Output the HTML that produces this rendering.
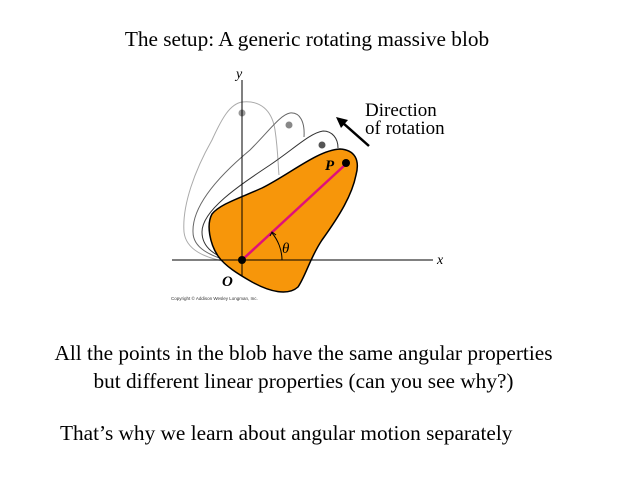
<!DOCTYPE html>
<html><head><style>
body{margin:0;width:640px;height:480px;background:#fff;overflow:hidden;position:relative;font-family:"Liberation Serif",serif;}
.t{position:absolute;font-size:21.3px;color:#000;white-space:nowrap;}
</style></head><body>
<div class="t" style="left:0;width:614px;text-align:center;top:27px;">The setup: A generic rotating massive blob</div>
<svg width="640" height="480" style="position:absolute;left:0;top:0">
<path d="M242,102 C260,100 272,110 275,130 C278,150 278,165 279,175 M228,262 C205,258 186,250 184,232 C182,205 195,170 212,140 C222,118 230,104 242,102" fill="none" stroke="#aaa" stroke-width="1"/>
<path d="M290,113 C300,112 305,122 304,137 M232,262 C210,256 193,248 193,232 C192,205 220,175 250,150 C270,130 280,115 290,113" fill="none" stroke="#666" stroke-width="1"/>
<path d="M323,131 C332,131 338,138 338,148 M236,263 C215,256 202,248 202,232 C202,210 240,185 270,165 C295,148 310,133 323,131" fill="none" stroke="#333" stroke-width="1"/>
<circle cx="242" cy="113" r="3.5" fill="#999"/>
<circle cx="289" cy="125" r="3.5" fill="#888"/>
<circle cx="322" cy="145" r="3.5" fill="#555"/>
<path d="M340,149 C355,150 360,160 356,175 C352,195 340,215 322,240 C310,258 306,275 298,287 C288,296 270,292 252,282 C238,274 225,266 218,256 C210,244 206,225 212,214 C220,204 240,198 262,188 C290,174 318,150 340,149 Z" fill="#f7960a" stroke="#000" stroke-width="1.5"/>
<line x1="172" y1="260" x2="433" y2="260" stroke="#000" stroke-width="1"/>
<line x1="242" y1="80" x2="242" y2="276" stroke="#000" stroke-width="1"/>
<line x1="242" y1="260" x2="346" y2="164" stroke="#e0107a" stroke-width="2.5"/>
<circle cx="242" cy="260" r="4" fill="#000"/>
<circle cx="346" cy="163" r="4" fill="#000"/>
<path d="M282,260 C282,250 278,240 272,233" fill="none" stroke="#000" stroke-width="1"/>
<path d="M270,236 L272,232 L276,235" fill="none" stroke="#000" stroke-width="1"/>
<line x1="369" y1="146" x2="343" y2="123" stroke="#000" stroke-width="2.5"/>
<path d="M336,117 L348,120 L341,128 Z" fill="#000"/>
<text x="236" y="78" font-family="Liberation Serif" font-style="italic" font-size="14">y</text>
<text x="437" y="264" font-family="Liberation Serif" font-style="italic" font-size="14">x</text>
<text x="222" y="286" font-family="Liberation Serif" font-style="italic" font-weight="bold" font-size="15">O</text>
<text x="325" y="170" font-family="Liberation Serif" font-style="italic" font-weight="bold" font-size="15">P</text>
<text x="282" y="253" font-family="Liberation Serif" font-style="italic" font-size="15">θ</text>
<text x="365" y="116" font-family="Liberation Serif" font-size="19">Direction</text>
<text x="365" y="134" font-family="Liberation Serif" font-size="19">of rotation</text>
<text x="171" y="300" font-family="Liberation Sans" font-size="4.5" fill="#333">Copyright © Addison Wesley Longman, Inc.</text>
</svg>
<div class="t" style="left:0;width:607px;text-align:center;top:341px;">All the points in the blob have the same angular properties</div>
<div class="t" style="left:0;width:607px;text-align:center;top:369px;">but different linear properties (can you see why?)</div>
<div class="t" style="left:60px;top:421px;">That’s why we learn about angular motion separately</div>
</body></html>
